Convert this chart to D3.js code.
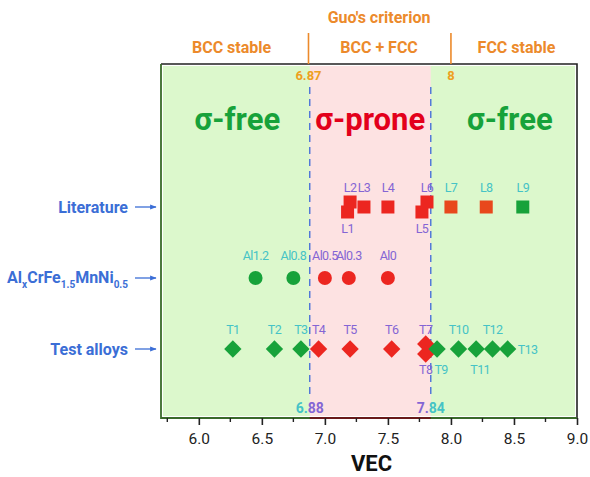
<!DOCTYPE html>
<html>
<head>
<meta charset="utf-8">
<script src="https://cdn.jsdelivr.net/npm/d3@7/dist/d3.min.js"></script>
<style>
  html, body { margin: 0; padding: 0; background: #fff; }
  svg { display: block; font-family: Roboto, "Liberation Sans", Arial, sans-serif; }
</style>
</head>
<body>
<svg id="chart" width="590" height="477"></svg>
<script>
// ---- data ----
const rows = ["Literature", "AlCrFeMnNi", "Test alloys"];

// literature alloys (squares)
const litNames = ["L1", "L2", "L3", "L4", "L5", "L6", "L7", "L8", "L9"];
const litVEC   = [7.18, 7.20, 7.31, 7.50, 7.77, 7.81, 8.00, 8.28, 8.57];
const litPhase = ["prone", "prone", "prone", "prone", "prone", "prone", "prone2", "prone2", "free"];
const litSide  = ["below", "above", "above", "above", "below", "above", "above", "above", "above"];

// AlxCrFe1.5MnNi0.5 series (circles)
const alNames = ["Al1.2", "Al0.8", "Al0.5", "Al0.3", "Al0"];
const alVEC   = [6.45, 6.75, 7.00, 7.19, 7.50];
const alPhase = ["free", "free", "prone", "prone", "prone"];
const alSide  = ["above", "above", "above", "above", "above"];

// test alloys (diamonds)
const testNames = ["T1", "T2", "T3", "T4", "T5", "T6", "T7", "T8", "T9", "T10", "T11", "T12", "T13"];
const testVEC   = [6.27, 6.60, 6.81, 6.95, 7.20, 7.53, 7.80, 7.80, 7.89, 8.06, 8.20, 8.33, 8.45];
const testPhase = ["free", "free", "free", "prone", "prone", "prone", "prone", "prone", "free", "free", "free", "free", "free"];
const testSide  = ["above", "above", "above", "above", "above", "above", "above", "below", "below", "above", "below", "above", "right"];

// phase boundaries
const sigmaBounds = [6.88, 7.84];   // σ-prone window
const guoBounds   = [6.87, 8];      // Guo's criterion BCC / FCC limits
const xTicks = [6.0, 6.5, 7.0, 7.5, 8.0, 8.5, 9.0];
const xDomain = [5.7, 9.0];

// ---- styling ----
const C = {
  green: "#17a23a", red: "#ec2620", redOrange: "#e8481c",
  cyan: "#45c3c6", purple: "#8465d4", orange: "#ec8a2b",
  blue: "#3b6ed6", bgGreen: "#dcf8cc", bgPink: "#fde2e2"
};
const markColor = { free: C.green, prone: C.red, prone2: C.redOrange };
const labelColor = { free: C.cyan, prone: C.purple, prone2: C.cyan };

const svg = d3.select("#chart");
const M = { left: 161, right: 577, top: 64, bottom: 418 };

const x = d3.scaleLinear().domain(xDomain).range([M.left, M.right]);
const y = d3.scalePoint().domain(rows).range([207, 349]);

// ---- background regions ----
const g = svg.append("g");
g.append("rect")
  .attr("x", M.left + 2).attr("y", M.top + 2)
  .attr("width", M.right - M.left - 4).attr("height", M.bottom - M.top - 4)
  .attr("fill", C.bgGreen);
g.append("rect")
  .attr("x", x(sigmaBounds[0])).attr("y", M.top + 2)
  .attr("width", x(sigmaBounds[1]) - x(sigmaBounds[0])).attr("height", M.bottom - M.top - 4)
  .attr("fill", C.bgPink);

// frame
g.append("path")
  .attr("d", `M${M.left},${M.top}H${M.right}V${M.bottom}`)
  .attr("fill", "none").attr("stroke", "#222").attr("stroke-width", 1.6);
g.append("path")
  .attr("d", `M${M.left},${M.top}V${M.bottom}H${M.right}`)
  .attr("fill", "none").attr("stroke", "#3a6a2a").attr("stroke-width", 1.8);
g.append("line")
  .attr("x1", x(sigmaBounds[0])).attr("x2", x(sigmaBounds[1]))
  .attr("y1", M.bottom).attr("y2", M.bottom)
  .attr("stroke", "#6a1a1a").attr("stroke-width", 1.8);

// ---- x axis ----
const axis = svg.append("g").attr("transform", `translate(0,${M.bottom})`);
axis.call(d3.axisBottom(x).tickValues(xTicks).tickFormat(d3.format(".1f")).tickSize(7).tickPadding(8))
  .call(a => a.select(".domain").remove())
  .call(a => a.selectAll(".tick line").attr("stroke", "#222").attr("stroke-width", 1.6))
  .call(a => a.selectAll(".tick text").attr("font-size", 15.5).attr("fill", "#222")
     .attr("font-family", "Roboto, 'Liberation Sans', Arial, sans-serif"));
const minor = d3.range(5.75, 9.0, 0.5);
axis.selectAll(".minor").data(minor).join("line")
  .attr("x1", d => x(d)).attr("x2", d => x(d))
  .attr("y1", 0).attr("y2", 4)
  .attr("stroke", "#222").attr("stroke-width", 1.4);
svg.append("text").attr("x", x(7.37)).attr("y", 471)
  .attr("text-anchor", "middle").attr("font-size", 22).attr("font-weight", "bold")
  .attr("fill", "#111").text("VEC");

// ---- Guo's criterion header ----
const head = svg.append("g").attr("font-weight", "bold").attr("fill", C.orange).attr("text-anchor", "middle");
head.append("text").attr("x", x(7.43)).attr("y", 23).attr("font-size", 16).text("Guo's criterion");
head.append("text").attr("x", x(6.26)).attr("y", 53).attr("font-size", 16).text("BCC stable");
head.append("text").attr("x", x(7.43)).attr("y", 53).attr("font-size", 16).text("BCC + FCC");
head.append("text").attr("x", x(8.52)).attr("y", 53).attr("font-size", 16).text("FCC stable");
head.selectAll("line").data(guoBounds).join("line")
  .attr("x1", d => x(d)).attr("x2", d => x(d))
  .attr("y1", 33).attr("y2", M.top)
  .attr("stroke", C.orange).attr("stroke-width", 1.6);
head.selectAll(".gv").data(guoBounds).join("text").attr("class", "gv")
  .attr("x", d => x(d)).attr("y", 80).attr("font-size", 13)
  .attr("fill", "#eea020").text(d => d);

// ---- σ-prone boundaries ----
svg.selectAll(".sb").data(sigmaBounds).join("line").attr("class", "sb")
  .attr("x1", d => x(d)).attr("x2", d => x(d))
  .attr("y1", 87).attr("y2", 396)
  .attr("stroke", "#4a72d8").attr("stroke-width", 1.4).attr("stroke-dasharray", "7,5");

// boundary values: colour follows the side of the line each glyph sits on
const sbText = svg.selectAll(".sbt").data(sigmaBounds).join("text").attr("class", "sbt")
  .attr("x", d => x(d)).attr("y", 413).attr("text-anchor", "middle")
  .attr("font-size", 14).attr("font-weight", "bold");
sbText.each(function(d, i) {
  const s = d3.format(".2f")(d);
  const sel = d3.select(this);
  const leftCol = i === 0 ? C.cyan : C.purple;
  const rightCol = i === 0 ? C.purple : C.cyan;
  sel.append("tspan").attr("fill", leftCol).text(s.slice(0, 2));
  sel.append("tspan").attr("fill", rightCol).text(s.slice(2));
});

// ---- region titles ----
const titles = svg.append("g").attr("font-size", 31).attr("font-weight", "bold").attr("text-anchor", "middle");
titles.append("text").attr("x", x((xDomain[0] + sigmaBounds[0]) / 2) + 2).attr("y", 130).attr("fill", C.green).text("σ-free");
titles.append("text").attr("x", x((sigmaBounds[0] + sigmaBounds[1]) / 2)).attr("y", 130).attr("fill", "#e3001b").text("σ-prone");
titles.append("text").attr("x", x((sigmaBounds[1] + xDomain[1]) / 2) + 6).attr("y", 130).attr("fill", C.green).text("σ-free");

// ---- row labels with arrows ----
svg.append("defs").append("marker")
  .attr("id", "arr").attr("viewBox", "0 0 10 10").attr("refX", 9).attr("refY", 5)
  .attr("markerWidth", 5).attr("markerHeight", 5).attr("orient", "auto")
  .append("path").attr("d", "M0,1L10,5L0,9Z").attr("fill", C.blue);

const rl = svg.append("g").attr("fill", C.blue).attr("font-weight", "bold").attr("font-size", 16).attr("text-anchor", "end");
rl.append("text").attr("x", 128).attr("y", y(rows[0]) + 6).text("Literature");
const al = rl.append("text").attr("x", 128).attr("y", y(rows[1]) + 5);
[["Al", 0], ["x", 1], ["CrFe", 0], ["1.5", 1], ["MnNi", 0], ["0.5", 1]].forEach(([t, sub]) => {
  al.append("tspan").attr("font-size", sub ? 10 : 16).attr("dy", sub ? 5 : -5).text(t);
});
al.selectAll("tspan").filter((d, i) => i === 0).attr("dy", 0);
rl.append("text").attr("x", 128).attr("y", y(rows[2]) + 6).text("Test alloys");
rows.forEach(r => {
  svg.append("line").attr("x1", 135).attr("x2", 156).attr("y1", y(r)).attr("y2", y(r))
    .attr("stroke", C.blue).attr("stroke-width", 1.3).attr("marker-end", "url(#arr)");
});

// ---- points ----
function buildSeries(names, vec, phase, side, row) {
  const pts = names.map((n, i) => ({ name: n, vec: vec[i], phase: phase[i], side: side[i], row }));
  // nearly coincident points are nudged apart toward their label side
  pts.forEach(p => {
    const close = pts.some(q => q !== p && Math.abs(q.vec - p.vec) < 0.05);
    p.dy = close ? (p.side === "below" ? 5 : -5) : 0;
  });
  return pts;
}
const lit = buildSeries(litNames, litVEC, litPhase, litSide, rows[0]);
const alx = buildSeries(alNames, alVEC, alPhase, alSide, rows[1]);
const tst = buildSeries(testNames, testVEC, testPhase, testSide, rows[2]);

const pg = svg.append("g");
pg.selectAll(".sq").data(lit).join("rect")
  .attr("x", d => x(d.vec) - 6.5).attr("y", d => y(d.row) + d.dy - 6.5)
  .attr("width", 13).attr("height", 13).attr("fill", d => markColor[d.phase]);
pg.selectAll(".ci").data(alx).join("circle")
  .attr("cx", d => x(d.vec)).attr("cy", d => y(d.row) + d.dy).attr("r", 7)
  .attr("fill", d => markColor[d.phase]);
pg.selectAll(".di").data(tst).join("path")
  .attr("d", d3.symbol().type(d3.symbolSquare).size(150))
  .attr("transform", d => `translate(${x(d.vec)},${y(d.row) + d.dy}) rotate(45)`)
  .attr("fill", d => markColor[d.phase]);

// ---- point labels ----
function labelSeries(pts, aboveOff, belowOff) {
  pg.selectAll(null).data(pts).join("text")
    .attr("x", d => d.side === "right" ? x(d.vec) + 10 : x(d.vec) + (d.side === "below" && d.dy === 0 ? 4 : 0))
    .attr("y", d => y(d.row) + (d.side === "above" ? aboveOff : d.side === "below" ? belowOff : 5))
    .attr("text-anchor", d => d.side === "right" ? "start" : "middle")
    .attr("font-size", 12.5)
    .attr("letter-spacing", -0.6)
    .attr("fill", d => labelColor[d.phase])
    .text(d => d.name);
}
labelSeries(lit, -15, 26);
labelSeries(alx, -18, 26);
labelSeries(tst, -15, 25);
</script>
</body>
</html>
